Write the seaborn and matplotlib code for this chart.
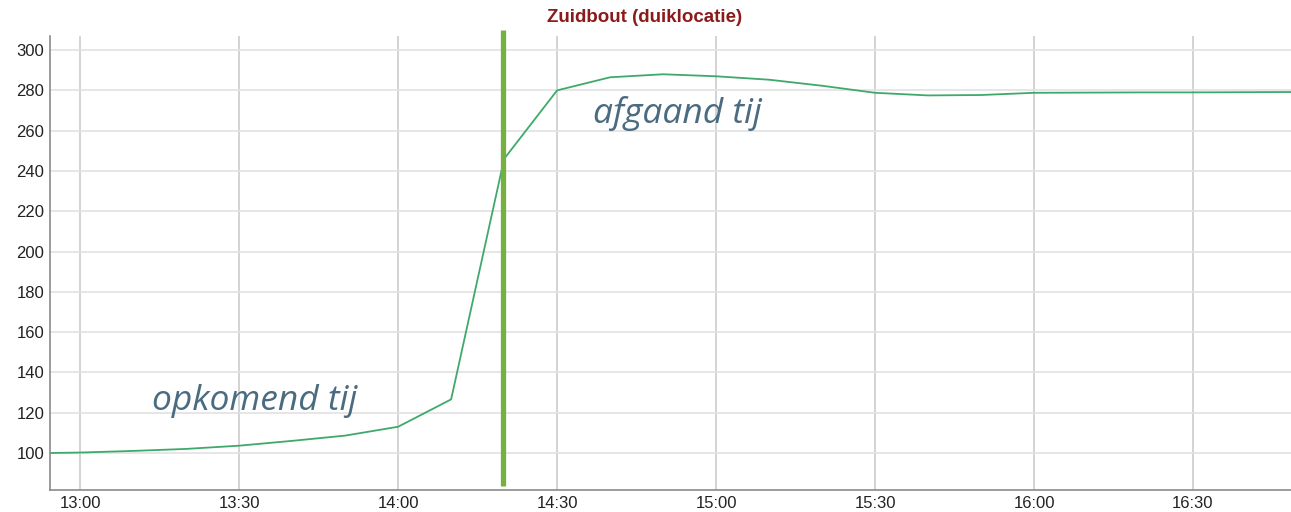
import matplotlib
matplotlib.use("Agg")
import matplotlib.pyplot as plt
import seaborn as sns
import pandas as pd

# data: minutes since midnight and values
minutes = [770, 780, 790, 800, 810, 820, 830, 840, 850, 860, 870, 880, 890, 900,
           910, 920, 930, 940, 950, 960, 970, 980, 990, 1000, 1010, 1020]
values = [99.8, 100.2, 101.0, 102.0, 103.6, 106.0, 108.6, 113.0, 126.6, 246.0, 280.0, 286.5, 288.0, 287.0,
          285.3, 282.3, 278.8, 277.5, 277.7, 278.8, 278.9, 279.0, 279.0, 279.1, 279.2, 279.4]
tick_minutes = [780, 810, 840, 870, 900, 930, 960, 990]
tick_labels = ["13:00", "13:30", "14:00", "14:30", "15:00", "15:30", "16:00", "16:30"]
y_ticks = [100, 120, 140, 160, 180, 200, 220, 240, 260, 280, 300]
marker_minute = 859.8
title = "Zuidbout (duiklocatie)"
label_rising = "opkomend tij"
label_falling = "afgaand tij"

df = pd.DataFrame({"t": minutes, "v": values})

sns.set_style("white")
plt.rcParams["font.family"] = ["Liberation Sans", "DejaVu Sans"]

fig = plt.figure(figsize=(12.91, 5.12), dpi=100)
ax = fig.add_axes([50 / 1291, 1 - 490 / 512, 1 - 50 / 1291, (490 - 36) / 512])

ax.set_xlim(774.3, 1008.5)
ax.set_ylim(81.6, 307)
ax.set_xticks(tick_minutes)
ax.set_xticklabels(tick_labels)
ax.set_yticks(y_ticks)
ax.tick_params(axis="both", labelsize=12, length=0, colors="#222222", pad=4)

ax.grid(axis="x", color="#c8c8c8", linewidth=1.1)
ax.grid(axis="y", color="#e2e2e2", linewidth=1.2)
ax.set_axisbelow(True)

sns.lineplot(data=df, x="t", y="v", ax=ax, color="#3fa96b", linewidth=1.3)
ax.set_xlabel("")
ax.set_ylabel("")

for s in ["top", "right"]:
    ax.spines[s].set_visible(False)
for s in ["left", "bottom"]:
    ax.spines[s].set_color("#8a8a8a")
    ax.spines[s].set_linewidth(1.2)

ax.axvline(marker_minute, ymin=0.009, ymax=1 + 6 / 454, color="#76b041", linewidth=3.8,
           clip_on=False, solid_capstyle="butt")

ax.text(793.6, 125.8, label_rising, fontsize=25.5, style="italic", color="#4b6b80",
        family=["Open Sans", "DejaVu Sans"], va="center", ha="left")
ax.text(876.8, 268.5, label_falling, fontsize=25.5, style="italic", color="#4b6b80",
        family=["Open Sans", "DejaVu Sans"], va="center", ha="left")

fig.text(645 / 1291, 1 - 17 / 512, title, fontsize=13.5, fontweight="bold", color="#8b1a1a",
         ha="center", va="center")

fig.savefig("out.png", dpi=100, facecolor="white")
